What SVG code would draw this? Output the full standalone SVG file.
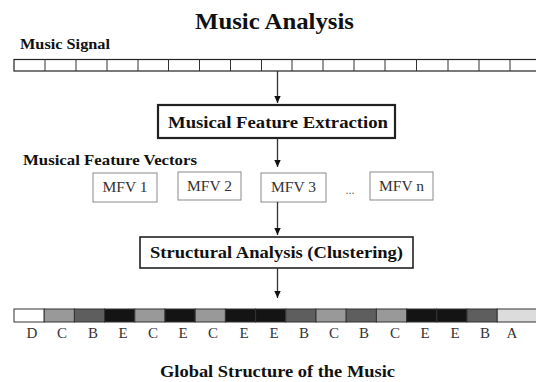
<svg xmlns="http://www.w3.org/2000/svg" width="536" height="382" viewBox="0 0 536 382">
<defs>
<style>
.t{font-family:"Liberation Serif","Times New Roman",serif;font-weight:bold;fill:#111}
.box{fill:#fff;stroke:#222}
.mfv{fill:#fff;stroke:#8a8a8a;stroke-width:1}
.mt{font-family:"Liberation Serif","Times New Roman",serif;font-size:15.5px;fill:#333;text-anchor:middle}
.cell{stroke:#333;stroke-width:1}
.lbl{font-family:"Liberation Serif","Times New Roman",serif;font-size:15px;fill:#333;text-anchor:middle}
.conn{stroke:#333;stroke-width:1.3;fill:none;marker-end:url(#ah)}
</style>
<marker id="ah" markerUnits="userSpaceOnUse" markerWidth="8" markerHeight="8" viewBox="0 0 8 8" refX="7" refY="4" orient="auto">
<path d="M0,0.8 L7,4 L0,7.2 Z" fill="#111"/>
</marker>
</defs>
<rect width="536" height="382" fill="#fff"/>
<text class="t" x="195" y="29" font-size="24" textLength="159" lengthAdjust="spacingAndGlyphs">Music Analysis</text>
<g id="music-signal">
<text class="t" x="20" y="49" font-size="14" textLength="90" lengthAdjust="spacingAndGlyphs">Music Signal</text>
<g fill="#fff" stroke="#222" stroke-width="1.2">
<rect x="14" y="59.5" width="540" height="11.5"/>
</g>
<g stroke="#333" stroke-width="1">
<path d="M45,59.5V71M76,59.5V71M107,59.5V71M138,59.5V71M168.5,59.5V71M199.5,59.5V71M230.5,59.5V71M261.5,59.5V71M292,59.5V71M323,59.5V71M354,59.5V71M385,59.5V71M416.5,59.5V71M448,59.5V71M479,59.5V71M510,59.5V71"/>
</g>
</g>
<g id="feature-extraction">
<rect class="box" x="158" y="105" width="237" height="33" stroke-width="2.2"/>
<text class="t" x="168" y="128" font-size="17" textLength="220" lengthAdjust="spacingAndGlyphs">Musical Feature Extraction</text>
</g>
<text class="t" x="23" y="165" font-size="15" textLength="174" lengthAdjust="spacingAndGlyphs">Musical Feature Vectors</text>
<g id="mfv1"><rect class="mfv" x="93" y="173" width="64" height="29"/><text class="mt" x="125" y="192">MFV 1</text></g>
<g id="mfv2"><rect class="mfv" x="178" y="172" width="63" height="28"/><text class="mt" x="209.5" y="191">MFV 2</text></g>
<g id="mfv3"><rect class="mfv" x="261" y="173" width="65" height="29"/><text class="mt" x="293.5" y="192">MFV 3</text></g>
<text x="350" y="194" font-family="Liberation Serif, serif" font-size="12" fill="#666" text-anchor="middle">...</text>
<g id="mfvn"><rect class="mfv" x="370" y="172" width="63" height="28"/><text class="mt" x="401.5" y="191">MFV n</text></g>
<g id="structural-analysis">
<rect class="box" x="140" y="237" width="273" height="31" stroke-width="1.6"/>
<text class="t" x="150" y="258" font-size="17" textLength="253" lengthAdjust="spacingAndGlyphs">Structural Analysis (Clustering)</text>
</g>
<g id="global-structure">
<rect class="cell" x="14" y="309" width="30.2" height="13" fill="#fff"/>
<rect class="cell" x="44.2" y="309" width="30.2" height="13" fill="#999"/>
<rect class="cell" x="74.4" y="309" width="30.2" height="13" fill="#5e5e5e"/>
<rect class="cell" x="104.6" y="309" width="30.2" height="13" fill="#141414"/>
<rect class="cell" x="134.8" y="309" width="30.2" height="13" fill="#999"/>
<rect class="cell" x="165" y="309" width="30.2" height="13" fill="#141414"/>
<rect class="cell" x="195.2" y="309" width="30.2" height="13" fill="#999"/>
<rect class="cell" x="225.4" y="309" width="30.2" height="13" fill="#141414"/>
<rect class="cell" x="255.6" y="309" width="30.2" height="13" fill="#141414"/>
<rect class="cell" x="285.8" y="309" width="30.2" height="13" fill="#5e5e5e"/>
<rect class="cell" x="316" y="309" width="30.2" height="13" fill="#999"/>
<rect class="cell" x="346.2" y="309" width="30.2" height="13" fill="#5e5e5e"/>
<rect class="cell" x="376.4" y="309" width="30.2" height="13" fill="#999"/>
<rect class="cell" x="406.6" y="309" width="30.2" height="13" fill="#141414"/>
<rect class="cell" x="436.8" y="309" width="30.2" height="13" fill="#141414"/>
<rect class="cell" x="467" y="309" width="30.2" height="13" fill="#5e5e5e"/>
<rect class="cell" x="497.2" y="309" width="45" height="13" fill="#dcdcdc"/>
<text class="lbl" x="32" y="338">D</text>
<text class="lbl" x="62" y="338">C</text>
<text class="lbl" x="93" y="338">B</text>
<text class="lbl" x="123" y="338">E</text>
<text class="lbl" x="153" y="338">C</text>
<text class="lbl" x="183" y="338">E</text>
<text class="lbl" x="213" y="338">C</text>
<text class="lbl" x="244" y="338">E</text>
<text class="lbl" x="274" y="338">E</text>
<text class="lbl" x="304" y="338">B</text>
<text class="lbl" x="334" y="338">C</text>
<text class="lbl" x="364" y="338">B</text>
<text class="lbl" x="395" y="338">C</text>
<text class="lbl" x="425" y="338">E</text>
<text class="lbl" x="455" y="338">E</text>
<text class="lbl" x="485" y="338">B</text>
<text class="lbl" x="512" y="338">A</text>
<text class="t" x="160" y="377" font-size="17" textLength="235" lengthAdjust="spacingAndGlyphs">Global Structure of the Music</text>
</g>
<g id="connectors">
<line class="conn" x1="277.5" y1="71" x2="277.5" y2="103"/>
<line class="conn" x1="277.5" y1="139" x2="277.5" y2="167"/>
<line class="conn" x1="277.5" y1="202" x2="277.5" y2="235"/>
<line class="conn" x1="277.5" y1="268" x2="277.5" y2="298"/>
</g>
</svg>
